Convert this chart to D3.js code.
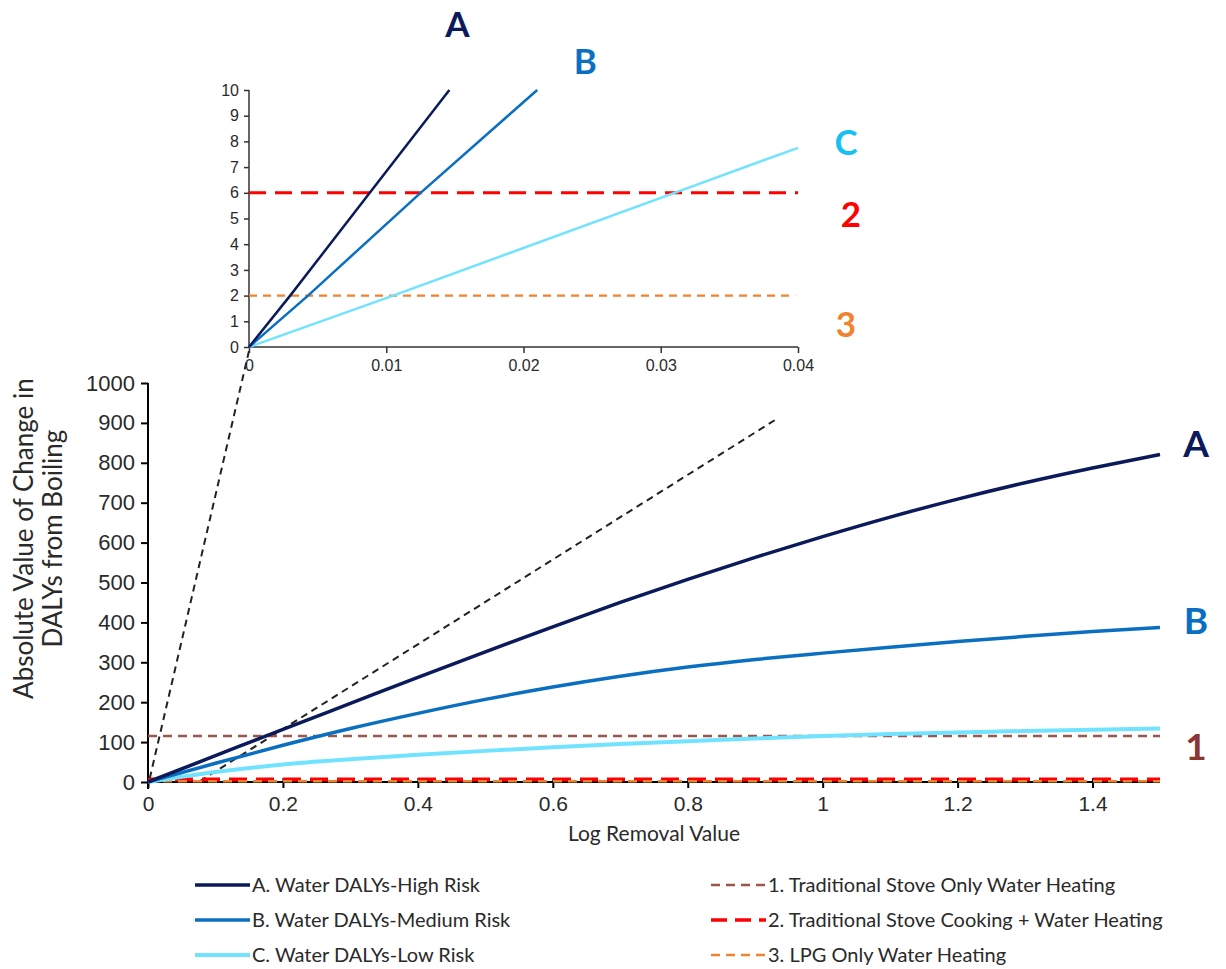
<!DOCTYPE html>
<html>
<head>
<meta charset="utf-8">
<script src="https://cdnjs.cloudflare.com/ajax/libs/d3/7.8.5/d3.min.js"></script>
<style>
  html, body { margin: 0; padding: 0; background: #fff; }
  svg { display: block; font-family: Lato, "Open Sans", sans-serif; }
</style>
</head>
<body>
<svg id="chart" width="1226" height="969"></svg>
<script>
// ---------- DATA ----------
const lrv = [0, 0.1, 0.2, 0.3, 0.4, 0.5, 0.6, 0.7, 0.8, 0.9, 1.0, 1.1, 1.2, 1.3, 1.4, 1.5];
const highRisk   = [0, 66, 132, 197, 262, 326, 389, 450, 508, 563, 615, 664, 709, 750, 787, 821];
const mediumRisk = [0, 47, 92, 134, 172, 207, 238, 265, 288, 307, 323, 338, 352, 365, 377, 387];
const lowRisk    = [0, 25, 44, 57, 68, 78, 87, 95, 102, 109, 115, 120, 124, 128, 131, 134];
const stoveWater = 115;     // 1. Traditional Stove Only Water Heating
const stoveCook  = 6;       // 2. Traditional Stove Cooking + Water Heating
const lpgWater   = 2;       // 3. LPG Only Water Heating

// inset (zoomed) readings
const insetHighX = [0, 0.003, 0.0088, 0.0146];
const insetHighY = [0, 2, 6, 10];
const insetMedX  = [0, 0.0043, 0.0125, 0.021];
const insetMedY  = [0, 2, 6, 10];
const insetLowX  = [0, 0.0105, 0.031, 0.04];
const insetLowY  = [0, 2, 6, 7.75];

const mainXTicks = [0, 0.2, 0.4, 0.6, 0.8, 1, 1.2, 1.4];
const mainYTicks = [0, 100, 200, 300, 400, 500, 600, 700, 800, 900, 1000];
const insetXTicks = [0, 0.01, 0.02, 0.03, 0.04];
const insetYTicks = [0, 1, 2, 3, 4, 5, 6, 7, 8, 9, 10];

const legendLabels = [
  "A. Water DALYs-High Risk",
  "B. Water DALYs-Medium Risk",
  "C. Water DALYs-Low Risk",
  "1. Traditional Stove Only Water Heating",
  "2. Traditional Stove Cooking + Water Heating",
  "3. LPG Only Water Heating"
];

// ---------- STYLE ----------
const C_A = "#0b1a5a", C_B = "#0b6fc1", C_C = "#72e3ff", C_Clab = "#16c0f2";
const C_1 = "#9a554d", C_1lab = "#8b3535", C_2 = "#ff0000", C_3 = "#f0832f";
const TXT = "#2a2a2a";

const svg = d3.select("#chart");

// ---------- SCALES ----------
const xMain = d3.scaleLinear().domain([0, 1.5]).range([148, 1160]);
const yMain = d3.scaleLinear().domain([0, 1000]).range([782, 383]);
const xIn = d3.scaleLinear().domain([0, 0.04]).range([249, 798]);
const yIn = d3.scaleLinear().domain([0, 10]).range([347, 90]);

// ---------- MAIN CHART ----------
const gMain = svg.append("g");

// connector dashed lines (inset -> main)
const connectors = [
  [[xIn(0), yIn(-0.15)], [xMain(0.002), yMain(5)]],
  [[xIn(0.0383), yIn(-2.85)], [xMain(0.075), yMain(0)]]
];
gMain.selectAll("line.conn").data(connectors).join("line")
  .attr("class", "conn")
  .attr("x1", d => d[0][0]).attr("y1", d => d[0][1])
  .attr("x2", d => d[1][0]).attr("y2", d => d[1][1])
  .attr("stroke", "#222").attr("stroke-width", 2).attr("stroke-dasharray", "7,5");

// axes
const xAxisMain = d3.axisBottom(xMain).tickValues(mainXTicks).tickFormat(d3.format("")).tickSize(6).tickPadding(8);
const gx = gMain.append("g").attr("transform", `translate(0,${yMain(0)})`).call(xAxisMain);
gx.select(".domain").attr("stroke", "#000").attr("stroke-width", 2).attr("d", `M${xMain(0)},0H${xMain(1.5)}`);
gx.selectAll(".tick line").attr("stroke", "#000").attr("stroke-width", 2).attr("y1", -4).attr("y2", 6);
gx.selectAll(".tick text").attr("font-size", 21).attr("fill", TXT);

const yAxisMain = d3.axisLeft(yMain).tickValues(mainYTicks).tickFormat(d3.format("d")).tickSize(7).tickPadding(6);
const gy = gMain.append("g").attr("transform", `translate(${xMain(0)},0)`).call(yAxisMain);
gy.select(".domain").attr("stroke", "#000").attr("stroke-width", 2).attr("d", `M0,${yMain(0)+7}V${yMain(1000)}`);
gy.selectAll(".tick line").attr("stroke", "#000").attr("stroke-width", 2);
gy.selectAll(".tick text").attr("font-size", 22).attr("fill", TXT);

// reference horizontal lines
const hLines = [
  { v: stoveWater, color: C_1, w: 2.5, dash: "9,6" },
  { v: stoveCook, color: C_2, w: 4, dash: "18,9" },
  { v: lpgWater, color: C_3, w: 2.5, dash: "9,6" }
];
gMain.selectAll("line.h").data(hLines).join("line")
  .attr("x1", xMain(0)).attr("x2", xMain(1.5))
  .attr("y1", d => yMain(d.v)).attr("y2", d => yMain(d.v))
  .attr("stroke", d => d.color).attr("stroke-width", d => d.w).attr("stroke-dasharray", d => d.dash);

const lineMain = d3.line().x(d => xMain(d[0])).y(d => yMain(d[1])).curve(d3.curveMonotoneX);
const mainSeries = [
  { vals: lowRisk, color: C_C, w: 4 },
  { vals: mediumRisk, color: C_B, w: 3.5 },
  { vals: highRisk, color: C_A, w: 3.5 }
];
gMain.selectAll("path.s").data(mainSeries).join("path")
  .attr("fill", "none").attr("stroke", d => d.color).attr("stroke-width", d => d.w)
  .attr("d", d => lineMain(lrv.map((x, i) => [x, d.vals[i]])));

// series labels on main chart
const mainLabs = [
  { t: "A", color: C_A, v: highRisk[highRisk.length - 1], dy: -10 },
  { t: "B", color: C_B, v: mediumRisk[mediumRisk.length - 1], dy: -7 },
  { t: "1", color: C_1lab, v: stoveWater, dy: 11 }
];
gMain.selectAll("text.ml").data(mainLabs).join("text")
  .attr("x", xMain(1.5) + 36).attr("y", d => yMain(d.v) + d.dy)
  .attr("dy", "0.35em").attr("text-anchor", "middle")
  .attr("font-size", 37).attr("font-weight", "bold").attr("fill", d => d.color).text(d => d.t);

// axis titles
gMain.append("text").attr("x", xMain(0.75)).attr("y", 841).attr("text-anchor", "middle")
  .attr("font-size", 21).attr("fill", TXT).text("Log Removal Value");
const yt = gMain.append("text").attr("transform", `translate(24,${yMain(610)}) rotate(-90)`)
  .attr("text-anchor", "middle").attr("font-size", 26).attr("fill", TXT);
yt.append("tspan").attr("x", 0).attr("dy", "0.35em").text("Absolute Value of Change in");
yt.append("tspan").attr("x", 0).attr("dy", "1.1em").text("DALYs from Boiling");

// ---------- INSET ----------
const gIn = svg.append("g");
const xAxisIn = d3.axisBottom(xIn).tickValues(insetXTicks).tickFormat(d => d === 0 ? "0" : d3.format(".2f")(d)).tickSize(6).tickPadding(7);
const gix = gIn.append("g").attr("transform", `translate(0,${yIn(0)})`).call(xAxisIn);
gix.select(".domain").attr("stroke", "#333").attr("stroke-width", 1.5).attr("d", `M${xIn(0)},0H${xIn(0.04)}`);
gix.selectAll(".tick line").attr("stroke", "#333").attr("stroke-width", 1.5);
gix.selectAll(".tick text").attr("font-size", 16).attr("fill", TXT);

const yAxisIn = d3.axisLeft(yIn).tickValues(insetYTicks).tickSize(5).tickPadding(5);
const giy = gIn.append("g").attr("transform", `translate(${xIn(0)},0)`).call(yAxisIn);
giy.select(".domain").attr("stroke", "#333").attr("stroke-width", 1.5).attr("d", `M0,${yIn(0)}V${yIn(10)}`);
giy.selectAll(".tick line").attr("stroke", "#333").attr("stroke-width", 1.5);
giy.selectAll(".tick text").attr("font-size", 16).attr("fill", TXT);

const hIn = [
  { v: stoveCook, color: C_2, w: 3, dash: "17,9", x2: 0.04 },
  { v: lpgWater, color: C_3, w: 2.2, dash: "8,6", x2: 0.0398 }
];
gIn.selectAll("line.hi").data(hIn).join("line")
  .attr("x1", xIn(0)).attr("x2", d => xIn(d.x2))
  .attr("y1", d => yIn(d.v)).attr("y2", d => yIn(d.v))
  .attr("stroke", d => d.color).attr("stroke-width", d => d.w).attr("stroke-dasharray", d => d.dash);

const lineIn = d3.line().x(d => xIn(d[0])).y(d => yIn(d[1]));
const inSeries = [
  { xs: insetLowX, ys: insetLowY, color: C_C },
  { xs: insetMedX, ys: insetMedY, color: C_B },
  { xs: insetHighX, ys: insetHighY, color: C_A }
];
gIn.selectAll("path.si").data(inSeries).join("path")
  .attr("fill", "none").attr("stroke", d => d.color).attr("stroke-width", 2.5)
  .attr("d", d => lineIn(d.xs.map((x, i) => [x, d.ys[i]])));

const inLabs = [
  { t: "A", color: C_A, x: insetHighX[3], v: insetHighY[3], dx: 8, dy: -65 },
  { t: "B", color: C_B, x: insetMedX[3], v: insetMedY[3], dx: 48, dy: -28 },
  { t: "C", color: C_Clab, x: insetLowX[3], v: insetLowY[3], dx: 48, dy: -5 },
  { t: "2", color: C_2, x: 0.04, v: stoveCook, dx: 53, dy: 22 },
  { t: "3", color: C_3, x: 0.04, v: lpgWater, dx: 48, dy: 29 }
];
gIn.selectAll("text.il").data(inLabs).join("text")
  .attr("x", d => xIn(d.x) + d.dx).attr("y", d => yIn(d.v) + d.dy)
  .attr("dy", "0.35em").attr("text-anchor", "middle")
  .attr("font-size", 35).attr("font-weight", "bold").attr("fill", d => d.color).text(d => d.t);

// ---------- LEGEND ----------
const legendItems = [
  { t: legendLabels[0], color: C_A, w: 3.5, dash: null, col: 0, row: 0 },
  { t: legendLabels[1], color: C_B, w: 3.5, dash: null, col: 0, row: 1 },
  { t: legendLabels[2], color: C_C, w: 4, dash: null, col: 0, row: 2 },
  { t: legendLabels[3], color: C_1, w: 2.5, dash: "9,6", col: 1, row: 0 },
  { t: legendLabels[4], color: C_2, w: 3.5, dash: "16,8", col: 1, row: 1 },
  { t: legendLabels[5], color: C_3, w: 2.5, dash: "9,6", col: 1, row: 2 }
];
const colX = [195, 711], rowY = [885, 920, 955];
const lg = svg.append("g").selectAll("g").data(legendItems).join("g")
  .attr("transform", d => `translate(${colX[d.col]},${rowY[d.row]})`);
lg.append("line").attr("x1", 0).attr("x2", 55).attr("y1", 0).attr("y2", 0)
  .attr("stroke", d => d.color).attr("stroke-width", d => d.w).attr("stroke-dasharray", d => d.dash);
lg.append("text").attr("x", 57).attr("dy", "0.35em").attr("font-size", 20).attr("fill", TXT).text(d => d.t);
</script>
</body>
</html>
